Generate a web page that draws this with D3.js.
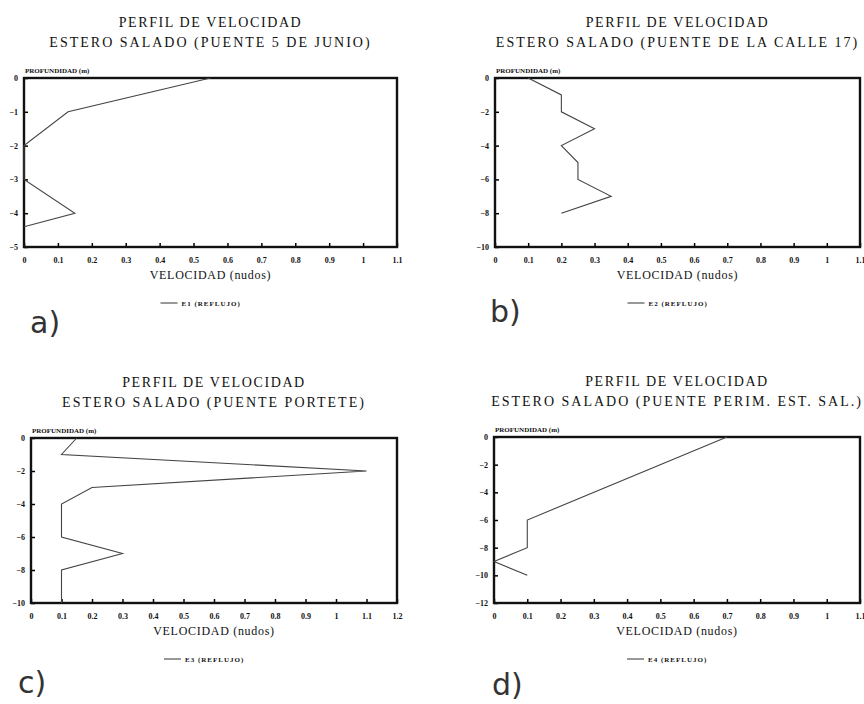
<!DOCTYPE html>
<html>
<head>
<meta charset="utf-8">
<script src="https://cdn.jsdelivr.net/npm/d3@7"></script>
<style>
body { margin: 0; background: #fff; }
</style>
</head>
<body>
<div id="chart"></div>
<script>

WIDTH = 864;
HEIGHT = 704;

SERIF = "'Liberation Serif', serif";

// perfiles de velocidad (nudos) vs profundidad (m)

// E1 - puente 5 de junio
var vel_e1  = [0.55, 0.13, 0, 0, 0.15, 0];
var prof_e1 = [0, -1, -2, -3, -4, -4.4];

// E2 - puente de la calle 17
var vel_e2  = [0.1, 0.2, 0.2, 0.3, 0.2, 0.25, 0.25, 0.35, 0.2];
var prof_e2 = [0, -1, -2, -3, -4, -5, -6, -7, -8];

// E3 - puente portete
var vel_e3  = [0.15, 0.1, 1.1, 0.2, 0.1, 0.1, 0.3, 0.1, 0.1];
var prof_e3 = [0, -1, -2, -3, -4, -6, -7, -8, -10];

// E4 - puente perimetral estero salado
var vel_e4  = [0.7, 0.1, 0.1, 0, 0.1];
var prof_e4 = [0, -6, -8, -9, -10];

// ejes
var xticks_11 = [0, 0.1, 0.2, 0.3, 0.4, 0.5, 0.6, 0.7, 0.8, 0.9, 1, 1.1];
var xticks_12 = [0, 0.1, 0.2, 0.3, 0.4, 0.5, 0.6, 0.7, 0.8, 0.9, 1, 1.1, 1.2];
var yticks_5  = [0, -1, -2, -3, -4, -5];
var yticks_10 = [0, -2, -4, -6, -8, -10];
var yticks_12 = [0, -2, -4, -6, -8, -10, -12];

// textos
var titulo = "PERFIL DE VELOCIDAD";
var subtitulos = [
    "ESTERO SALADO (PUENTE 5 DE JUNIO)",
    "ESTERO SALADO (PUENTE DE LA CALLE 17)",
    "ESTERO SALADO (PUENTE PORTETE)",
    "ESTERO SALADO (PUENTE PERIM. EST. SAL.)"
];
var leyendas = ["E1 (REFLUJO)", "E2 (REFLUJO)", "E3 (REFLUJO)", "E4 (REFLUJO)"];
var letras = ["a)", "b)", "c)", "d)"];
var eje_y = "PROFUNDIDAD (m)";
var eje_x = "VELOCIDAD (nudos)";


// layout of the four plot frames (pixels) and the hand written letters
var frames = [
    { left: 24,  right: 397, top: 78,  bottom: 247, lx: 30,  ly: 333 },
    { left: 495, right: 860, top: 78,  bottom: 247, lx: 490, ly: 322 },
    { left: 31,  right: 397, top: 438, bottom: 603, lx: 18,  ly: 693 },
    { left: 494, right: 860, top: 437, bottom: 603, lx: 492, ly: 695 }
];

var series = [
    { vel: vel_e1, prof: prof_e1, xt: xticks_11, yt: yticks_5 },
    { vel: vel_e2, prof: prof_e2, xt: xticks_11, yt: yticks_10 },
    { vel: vel_e3, prof: prof_e3, xt: xticks_12, yt: yticks_10 },
    { vel: vel_e4, prof: prof_e4, xt: xticks_11, yt: yticks_12 }
];


var svg = d3.select("#chart").append("svg")
    .attr("width", WIDTH)
    .attr("height", HEIGHT);


function style_axis(a) {
    a.select(".domain").remove();
    a.selectAll(".tick line")
        .attr("stroke-width", 1.5);
    a.selectAll(".tick text")
        .attr("font-family", SERIF)
        .attr("font-weight", "bold")
        .attr("font-size", 8)
        .attr("fill", "#111");
}


function draw_panel(i) {
    var f = frames[i], s = series[i];
    var cx = (f.left + f.right) / 2;

    var x = d3.scaleLinear()
        .domain([0, s.xt[s.xt.length - 1]])
        .range([f.left, f.right]);

    var y = d3.scaleLinear()
        .domain([0, s.yt[s.yt.length - 1]])
        .range([f.top, f.bottom]);

    var g = svg.append("g");

    // titles
    g.append("text")
        .attr("x", cx).attr("y", f.top - 51)
        .attr("text-anchor", "middle")
        .attr("font-family", SERIF)
        .attr("font-size", 14).attr("letter-spacing", 1.6)
        .attr("fill", "#111")
        .text(titulo);

    g.append("text")
        .attr("x", cx).attr("y", f.top - 31)
        .attr("text-anchor", "middle")
        .attr("font-family", SERIF)
        .attr("font-size", 14).attr("letter-spacing", 2)
        .attr("fill", "#111")
        .text(subtitulos[i]);

    // axis labels
    g.append("text")
        .attr("x", f.left + 1).attr("y", f.top - 5)
        .attr("font-family", SERIF)
        .attr("font-size", 7).attr("font-weight", "bold")
        .attr("fill", "#111")
        .text(eje_y);

    g.append("text")
        .attr("x", cx).attr("y", f.bottom + 32)
        .attr("text-anchor", "middle")
        .attr("font-family", SERIF)
        .attr("font-size", 12).attr("letter-spacing", 0.7)
        .attr("fill", "#111")
        .text(eje_x);

    // legend
    g.append("line")
        .attr("x1", cx - 50).attr("x2", cx - 33)
        .attr("y1", f.bottom + 56).attr("y2", f.bottom + 56)
        .attr("stroke", "#444").attr("stroke-width", 1.1);

    g.append("text")
        .attr("x", cx - 29).attr("y", f.bottom + 58.5)
        .attr("font-family", SERIF)
        .attr("font-size", 7).attr("font-weight", "bold")
        .attr("letter-spacing", 1)
        .attr("fill", "#111")
        .text(leyendas[i]);

    // hand written panel letter
    g.append("text")
        .attr("x", f.lx).attr("y", f.ly)
        .attr("font-family", "'DejaVu Sans', sans-serif")
        .attr("font-size", 30)
        .attr("fill", "#333")
        .text(letras[i]);

    // axes, ticks pointing inside the frame
    g.append("g")
        .attr("transform", "translate(0," + f.bottom + ")")
        .call(d3.axisBottom(x).tickValues(s.xt).tickSize(-4).tickPadding(10)
              .tickFormat(d3.format("~g")))
        .call(style_axis);

    g.append("g")
        .attr("transform", "translate(" + f.left + ",0)")
        .call(d3.axisLeft(y).tickValues(s.yt).tickSize(-4).tickPadding(6)
              .tickFormat(d3.format("~g")))
        .call(style_axis);

    // frame
    g.append("rect")
        .attr("x", f.left).attr("y", f.top)
        .attr("width", f.right - f.left).attr("height", f.bottom - f.top)
        .attr("fill", "none")
        .attr("stroke", "#111")
        .attr("stroke-width", 2.4);

    // profile line
    var line = d3.line()
        .x(function (d, k) { return x(s.vel[k]); })
        .y(function (d, k) { return y(s.prof[k]); });

    g.append("path")
        .datum(s.prof)
        .attr("d", line)
        .attr("fill", "none")
        .attr("stroke", "#444")
        .attr("stroke-width", 1.1);
}

for (var i = 0; i < 4; i++) draw_panel(i);

</script>
</body>
</html>
